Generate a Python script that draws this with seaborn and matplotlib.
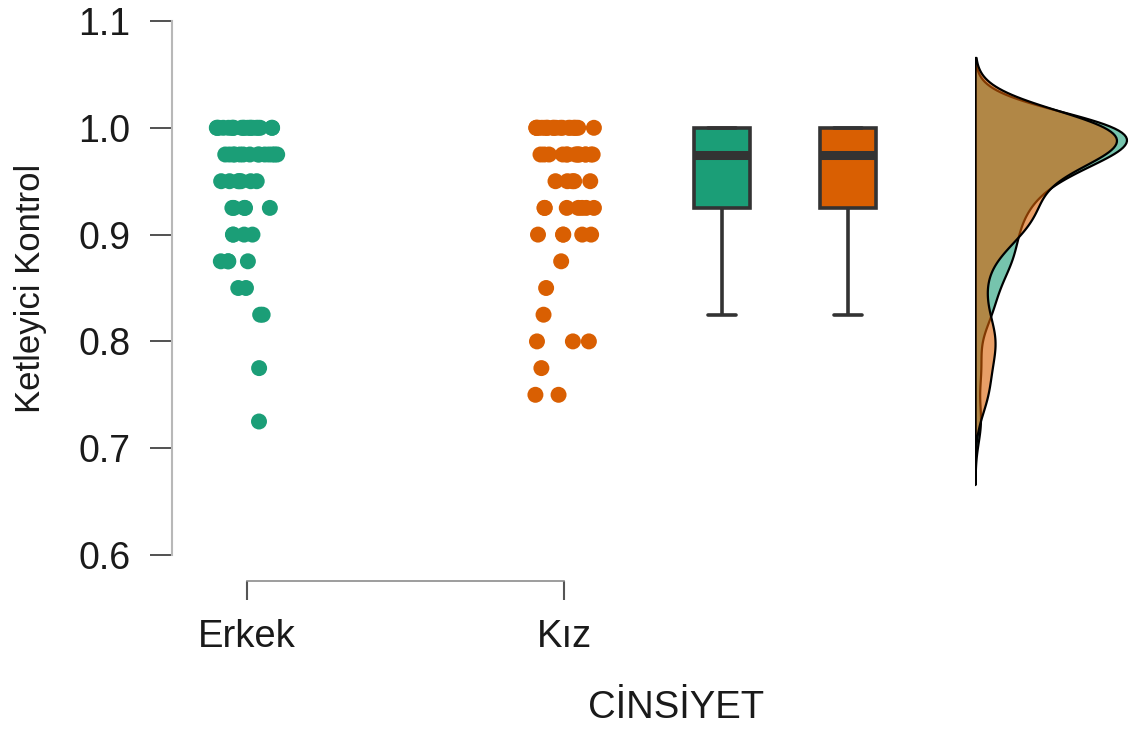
import matplotlib

matplotlib.use("Agg")
import matplotlib.pyplot as plt
import numpy as np
import pandas as pd
import seaborn as sns

# Datos (conteos por nivel de puntuación)
groups = ["Erkek", "Kız"]
levels = [1.0, 0.975, 0.95, 0.925, 0.9, 0.875, 0.85, 0.825, 0.8, 0.775, 0.75, 0.725]
erkek_counts = [20, 14, 7, 5, 4, 4, 2, 2, 0, 1, 0, 1]
kiz_counts = [20, 14, 5, 7, 5, 1, 1, 1, 3, 1, 2, 0]
colors = ["#1B9E77", "#D95F02"]
yticks = [0.6, 0.7, 0.8, 0.9, 1.0, 1.1]

XCOL = "CİNSİYET"
YCOL = "Ketleyici Kontrol"

rows = []
for g, counts in zip(groups, [erkek_counts, kiz_counts]):
    for v, c in zip(levels, counts):
        rows += [(g, v)] * c
df = pd.DataFrame(rows, columns=[XCOL, YCOL])
pal = dict(zip(groups, colors))

sns.set_theme(style="white")
plt.rcParams["font.family"] = ["Liberation Sans", "DejaVu Sans"]

W, H = 1131, 729
fig = plt.figure(figsize=(W / 100, H / 100), dpi=100)


def rect(x0, y0, x1, y1):
    # caja en píxeles (y desde arriba) -> fracción de figura
    return [x0 / W, 1 - y1 / H, (x1 - x0) / W, (y1 - y0) / H]


# --- puntos ---
ax = fig.add_axes(rect(172, 21, 1131, 555))
np.random.seed(3)
sns.stripplot(
    data=df, x=XCOL, y=YCOL, hue=XCOL, order=groups, palette=pal,
    jitter=True, size=11.5, linewidth=0, legend=False, ax=ax,
)
ax.set_xlim(-75 / 317, (1131 - 247) / 317)
ax.set_ylim(0.6, 1.1)
ax.set_yticks(yticks)
ax.set_yticklabels([f"{t:.1f}" for t in yticks])
ax.spines["top"].set_visible(False)
ax.spines["right"].set_visible(False)
ax.spines["left"].set_color("#b8b8b8")
ax.spines["left"].set_linewidth(1.5)
ax.spines["bottom"].set_color("#8c8c8c")
ax.spines["bottom"].set_linewidth(1.2)
ax.spines["bottom"].set_position(("outward", 19))
ax.spines["bottom"].set_bounds(0, 1)
ax.tick_params(axis="y", left=True, length=16, width=1.2, color="#333333",
               labelsize=27, pad=14, labelcolor="#1a1a1a")
ax.tick_params(axis="x", bottom=True, length=14, width=1.5, color="#555555",
               labelsize=27.5, pad=13, labelcolor="#1a1a1a")
ax.set_xlabel(XCOL, fontsize=27.5, color="#1a1a1a")
ax.set_ylabel(YCOL, fontsize=25, color="#1a1a1a")
ax.xaxis.set_label_coords((676 - 172) / 959, (555 - 690) / 534)
ax.yaxis.set_label_coords((47 - 172) / 959, 0.5)

# --- cajas ---
axb = fig.add_axes(rect(660, 21, 910, 555))
sns.boxplot(
    data=df, x=XCOL, y=YCOL, hue=XCOL, order=groups, palette=pal,
    width=0.45, showfliers=False, saturation=1, linecolor="#333333",
    linewidth=2.6, medianprops={"linewidth": 6.5}, legend=False, ax=axb,
)
axb.set_xlim((660 - 722) / 126, (910 - 722) / 126)
axb.set_ylim(0.6, 1.1)
axb.axis("off")

# --- densidades ---
axd = fig.add_axes(rect(975, 21, 1131, 555))
sns.kdeplot(
    data=df, y=YCOL, hue=XCOL, hue_order=groups[::-1], palette=pal,
    fill=True, common_norm=False, alpha=0.6, edgecolor="black",
    linewidth=1.6, bw_adjust=0.72, legend=False, ax=axd,
)
peak = max(c.get_paths()[0].vertices[:, 0].max() for c in axd.collections)
axd.set_xlim(0, peak * 1.03)
axd.set_ylim(0.6, 1.1)
axd.axis("off")

fig.savefig("out.png", dpi=100)
